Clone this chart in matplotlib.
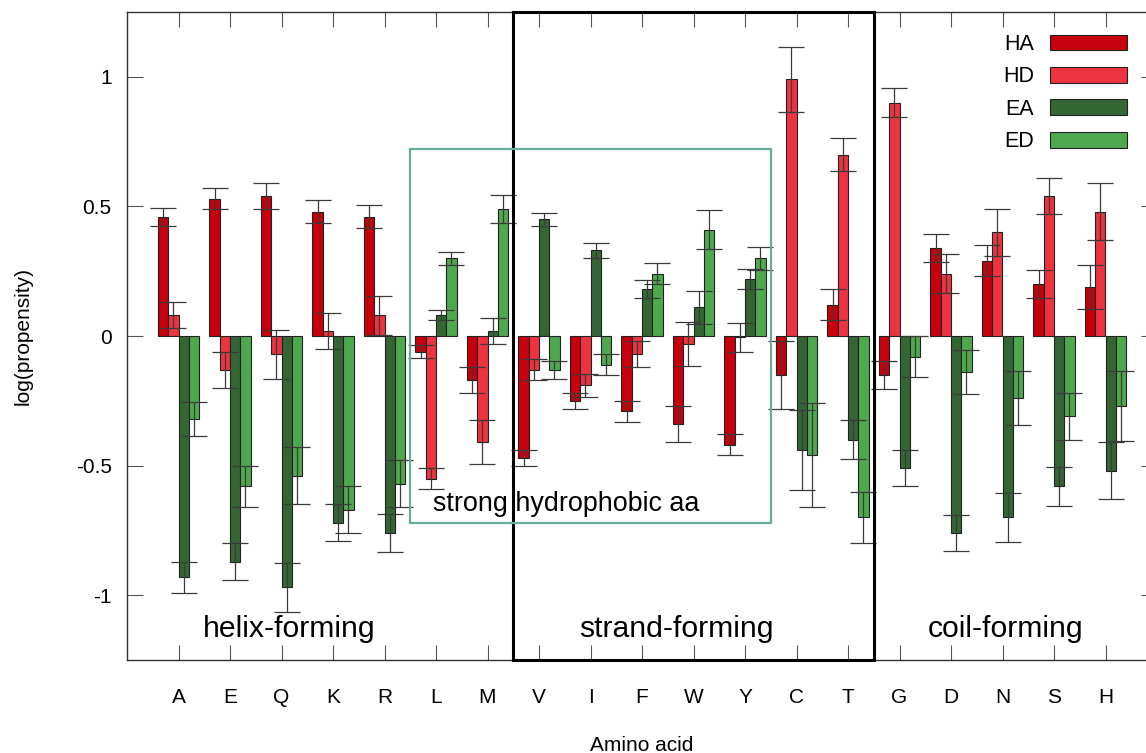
import numpy as np
import matplotlib
matplotlib.use("Agg")
import matplotlib.pyplot as plt
from matplotlib.patches import Rectangle

plt.rcParams['font.family'] = ['Liberation Sans', 'DejaVu Sans']

# amino acids on the x axis
aa = ['A', 'E', 'Q', 'K', 'R', 'L', 'M', 'V', 'I', 'F', 'W', 'Y', 'C', 'T', 'G', 'D', 'N', 'S', 'H']

# log(propensity) for each series
HA = [0.46, 0.53, 0.54, 0.48, 0.46, -0.06, -0.17, -0.47, -0.25, -0.29, -0.34, -0.42, -0.15, 0.12, -0.15, 0.34, 0.29, 0.20, 0.19]
HA_err = [0.035, 0.04, 0.05, 0.045, 0.045, 0.025, 0.05, 0.03, 0.03, 0.04, 0.07, 0.04, 0.13, 0.06, 0.055, 0.055, 0.06, 0.055, 0.085]
HD = [0.08, -0.13, -0.07, 0.02, 0.08, -0.55, -0.41, -0.13, -0.19, -0.07, -0.03, -0.005, 0.99, 0.70, 0.90, 0.24, 0.40, 0.54, 0.48]
HD_err = [0.05, 0.07, 0.095, 0.07, 0.075, 0.04, 0.085, 0.04, 0.045, 0.05, 0.085, 0.055, 0.125, 0.065, 0.055, 0.075, 0.09, 0.07, 0.11]
EA = [-0.93, -0.87, -0.97, -0.72, -0.76, 0.08, 0.02, 0.45, 0.33, 0.18, 0.11, 0.22, -0.44, -0.40, -0.51, -0.76, -0.70, -0.58, -0.52]
EA_err = [0.06, 0.07, 0.095, 0.07, 0.075, 0.02, 0.05, 0.025, 0.03, 0.035, 0.065, 0.04, 0.155, 0.075, 0.07, 0.07, 0.095, 0.075, 0.11]
ED = [-0.32, -0.58, -0.54, -0.67, -0.57, 0.30, 0.49, -0.13, -0.11, 0.24, 0.41, 0.30, -0.46, -0.70, -0.08, -0.14, -0.24, -0.31, -0.27]
ED_err = [0.065, 0.08, 0.11, 0.09, 0.09, 0.025, 0.055, 0.035, 0.04, 0.04, 0.075, 0.045, 0.2, 0.1, 0.08, 0.085, 0.105, 0.09, 0.135]

series = [('HA', HA, HA_err, '#c6000c'),
          ('HD', HD, HD_err, '#ee3340'),
          ('EA', EA, EA_err, '#356535'),
          ('ED', ED, ED_err, '#4ea94e')]

# region labels
regions = ['helix-forming', 'strand-forming', 'coil-forming']

fig = plt.figure(figsize=(11.46, 7.53), dpi=100)
# the right spine falls just outside the picture, as in the original
ax = fig.add_axes([127/1146, 93/753, 1030/1146, 648/753])

x = np.arange(1, len(aa) + 1)
width = 0.2
offsets = [-0.3, -0.1, 0.1, 0.3]

for (name, vals, errs, col), off in zip(series, offsets):
    ax.bar(x + off, vals, width, color=col, edgecolor='#222222', linewidth=0.8, label=name, zorder=2)
for (name, vals, errs, col), off in zip(series, offsets):
    ax.errorbar(x + off, vals, yerr=errs, fmt='none', ecolor='#3a3a3a', elinewidth=0.9,
                capsize=9.5, capthick=0.9, zorder=3)

ax.set_xlim(0, 20)
ax.set_ylim(-1.25, 1.25)
ax.set_xticks(x)
ax.set_xticklabels(aa)
ax.set_yticks([-1, -0.5, 0, 0.5, 1])
ax.set_yticklabels(['-1', '-0.5', '0', '0.5', '1'])
ax.tick_params(axis='x', direction='in', length=11, width=0.8, color='#555555',
               top=True, labelsize=15, pad=20)
ax.tick_params(axis='y', direction='in', length=11.5, width=0.8, color='#555555',
               right=True, labelsize=15, pad=11)
for s in ax.spines.values():
    s.set_color('#333333')
    s.set_linewidth(1.0)

ax.set_xlabel('Amino acid', fontsize=15, labelpad=21)
ax.set_ylabel('log(propensity)', fontsize=15, labelpad=31)

# strand-forming box (black) and strong hydrophobic box (teal)
ax.add_patch(Rectangle((7.5, -1.25), 7.0, 2.5, fill=False, edgecolor='black', linewidth=2.2,
                       zorder=4, clip_on=False))
ax.add_patch(Rectangle((5.5, -0.72), 7.0, 1.44, fill=False, edgecolor='#6aab9b', linewidth=1.6,
                       zorder=4))
ax.text(8.53, -0.677, 'strong hydrophobic aa', fontsize=19.4, ha='center', va='baseline', zorder=5)

ax.text(3.14, -1.16, regions[0], fontsize=21.7, ha='center', va='baseline')
ax.text(10.66, -1.16, regions[1], fontsize=21.7, ha='center', va='baseline')
ax.text(17.06, -1.16, regions[2], fontsize=21.7, ha='center', va='baseline')

ax.legend(loc='upper right', bbox_to_anchor=(1127/1146, 1 - 34/753), bbox_transform=fig.transFigure,
          frameon=False, markerfirst=False, fontsize=15.5, handlelength=3.58, handleheight=0.74,
          handletextpad=0.75, labelspacing=0.53, borderpad=0, borderaxespad=0)

fig.savefig('out.png', dpi=100)
